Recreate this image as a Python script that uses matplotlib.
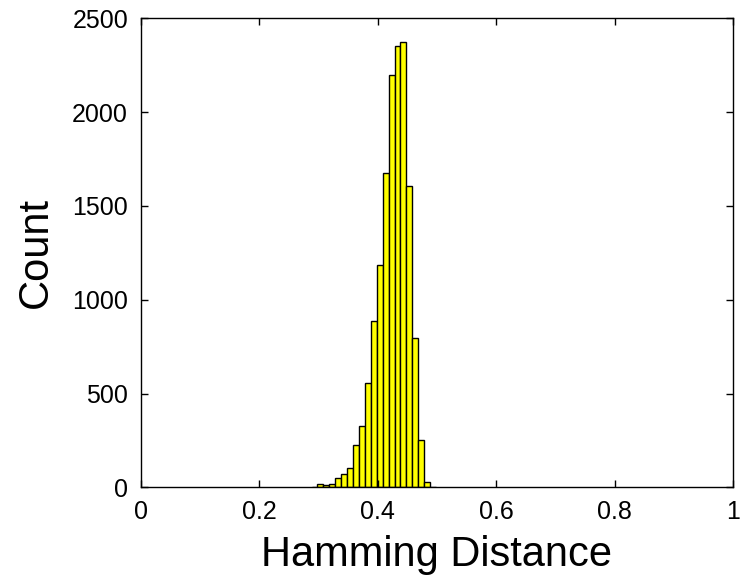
import numpy as np
import matplotlib
matplotlib.use("Agg")
from matplotlib import pyplot as plt

# histogram bins (centres) and counts
binCentres = [0.2934, 0.3034, 0.3134, 0.3234, 0.3334, 0.3434, 0.3534,
              0.3634, 0.3734, 0.3834, 0.3934, 0.4034, 0.4134, 0.4234,
              0.4334, 0.4434, 0.4534, 0.4634, 0.4734, 0.4834, 0.4934]
counts = [3, 20, 12, 20, 50, 73, 101,
          224, 327, 555, 885, 1184, 1678, 2197,
          2352, 2372, 1605, 796, 252, 27, 2]
binWidth = 0.01

xTicks = [0, 0.2, 0.4, 0.6, 0.8, 1]
xTickLabels = ["0", "0.2", "0.4", "0.6", "0.8", "1"]
yTicks = [0, 500, 1000, 1500, 2000, 2500]

plt.rcParams["font.family"] = ["Liberation Sans", "DejaVu Sans"]

fig = plt.figure(figsize=(7.4, 5.78), dpi=100)
ax = fig.add_axes([0.190, 0.157, 0.801, 0.811])

ax.bar(binCentres, counts, width=binWidth, color="#ffff00",
       edgecolor="black", linewidth=1.0)

ax.set_xlim(0, 1)
ax.set_ylim(0, 2500)
ax.set_xticks(xTicks)
ax.set_xticklabels(xTickLabels)
ax.set_yticks(yTicks)
ax.tick_params(direction="in", top=True, right=True, length=5,
               width=1, labelsize=18, pad=9)
for s in ax.spines.values():
    s.set_linewidth(1.0)

ax.set_xlabel("Hamming Distance", fontsize=30, labelpad=8)
ax.set_ylabel("Count", fontsize=30, labelpad=12)

fig.savefig("out.png", dpi=100)
